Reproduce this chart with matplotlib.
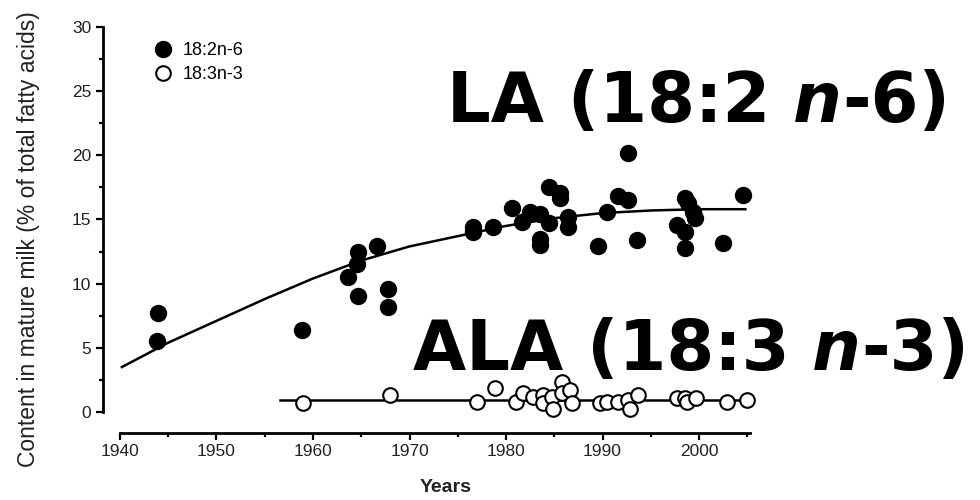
import matplotlib
matplotlib.use("Agg")
import matplotlib.pyplot as plt
from matplotlib.ticker import MultipleLocator

plt.rcParams['font.family'] = ['Liberation Sans', 'DejaVu Sans']

# 18:2n-6 (LA) measurements
la_years = [1943.9, 1943.8, 1958.9, 1964.7, 1966.6, 1964.6, 1963.6, 1964.7,
            1967.8, 1967.8, 1976.6, 1976.6, 1978.7, 1980.6, 1982.5, 1981.7,
            1983.5, 1983.5, 1983.5, 1984.5, 1985.6, 1985.6, 1984.5, 1986.4,
            1986.4, 1989.5, 1990.5, 1992.6, 1991.6, 1992.6, 1993.6, 1998.5,
            1998.9, 1999.4, 1999.6, 1997.7, 1998.5, 1998.5, 2002.5, 2004.6]
la_values = [7.7, 5.5, 6.4, 12.5, 12.9, 11.5, 10.5, 9.0,
             9.6, 8.2, 14.4, 14.0, 14.4, 15.9, 15.6, 14.8,
             15.4, 13.5, 13.0, 17.5, 17.1, 16.7, 14.7, 15.2,
             14.4, 12.9, 15.6, 20.2, 16.8, 16.5, 13.4, 16.7,
             16.3, 15.6, 15.1, 14.6, 14.0, 12.8, 13.2, 16.9]

# 18:3n-3 (ALA) measurements
ala_years = [1959.0, 1968.0, 1977.0, 1978.9, 1981.0, 1981.8, 1982.8, 1983.8,
             1983.8, 1984.8, 1984.9, 1985.8, 1985.8, 1986.6, 1986.8, 1989.7,
             1990.5, 1991.6, 1992.6, 1992.8, 1993.7, 1997.7, 1998.5, 1998.8,
             1999.7, 2002.9, 2005.0]
ala_values = [0.7, 1.3, 0.8, 1.9, 0.8, 1.5, 1.2, 1.3,
              0.7, 1.2, 0.2, 2.3, 1.5, 1.7, 0.7, 0.7,
              0.8, 0.8, 0.9, 0.2, 1.3, 1.1, 1.1, 0.8,
              1.1, 0.8, 0.9]

# fitted trend lines
la_fit_years = [1940.2, 1945, 1950, 1955, 1960, 1965, 1970, 1975, 1980,
                1985, 1990, 1995, 2000, 2004.8]
la_fit_values = [3.5, 5.4, 7.1, 8.8, 10.4, 11.8, 12.9, 13.7, 14.5,
                 15.1, 15.5, 15.7, 15.8, 15.8]
ala_fit_years = [1956.6, 2005.3]
ala_fit_values = [0.94, 0.94]

fig = plt.figure(figsize=(9.8, 5.0), dpi=100)
ax = fig.add_axes([0.1047, 0.134, 0.6677, 0.812])
ax.set_xlim(1938.2, 2006)
ax.set_ylim(-1.64, 30.0)

ax.plot(la_fit_years, la_fit_values, color='black', lw=1.8, zorder=2)
ax.plot(ala_fit_years, ala_fit_values, color='black', lw=1.8, zorder=2)
la_h, = ax.plot(la_years, la_values, 'o', ms=11.5, color='black',
                label='18:2n-6', zorder=3)
ala_h, = ax.plot(ala_years, ala_values, 'o', ms=10.5, mfc='white',
                 mec='black', mew=1.5, label='18:3n-3', zorder=4)

for side in ['top', 'right']:
    ax.spines[side].set_visible(False)
ax.spines['left'].set_linewidth(2.0)
ax.spines['bottom'].set_linewidth(2.0)
ax.spines['left'].set_bounds(0, 30)
ax.spines['bottom'].set_bounds(1940, 2005.3)

ax.xaxis.set_major_locator(MultipleLocator(10))
ax.xaxis.set_minor_locator(MultipleLocator(5))
ax.yaxis.set_major_locator(MultipleLocator(5))
ax.yaxis.set_minor_locator(MultipleLocator(2.5))
ax.set_xticks([1940, 1950, 1960, 1970, 1980, 1990, 2000])
ax.tick_params(which='major', length=5, width=1.6, labelsize=12.5,
               direction='out', pad=3, labelcolor='#222222')
ax.tick_params(which='minor', length=3, width=1.6, direction='out')

fig.text(0.029, 0.522, 'Content in mature milk (% of total fatty acids)',
         rotation=90, ha='center', va='center', fontsize=16.5,
         color='#222222')
fig.text(0.455, 0.024, 'Years', ha='center', va='center', fontsize=14,
         fontweight='bold', color='#222222')

ax.legend(handles=[la_h, ala_h], loc='upper left', frameon=False,
          bbox_to_anchor=(154 / 980, 1 - 42 / 500),
          bbox_transform=fig.transFigure, fontsize=13, handlelength=1.0,
          handletextpad=0.6, borderpad=0, borderaxespad=0, labelspacing=0.38)


def big_label(x, y, head, tail, size):
    t1 = fig.text(x, y, head, fontsize=size, fontweight='bold',
                  family='DejaVu Sans', ha='left', va='bottom')
    t2 = ax.annotate('n', xy=(1, 0), xycoords=t1, xytext=(size * 0.33, 0),
                     textcoords='offset points', fontsize=size,
                     fontweight='bold', fontstyle='italic',
                     family='DejaVu Sans', ha='left', va='bottom',
                     annotation_clip=False)
    ax.annotate(tail, xy=(1, 0), xycoords=t2, fontsize=size,
                fontweight='bold', family='DejaVu Sans', ha='left',
                va='bottom', annotation_clip=False)


big_label(447 / 980, 1 - 136 / 500, 'LA (18:2', '-6)', 49.5)
big_label(413 / 980, 1 - 384 / 500, 'ALA (18:3', '-3)', 49.5)

fig.savefig('out.png', dpi=100)
